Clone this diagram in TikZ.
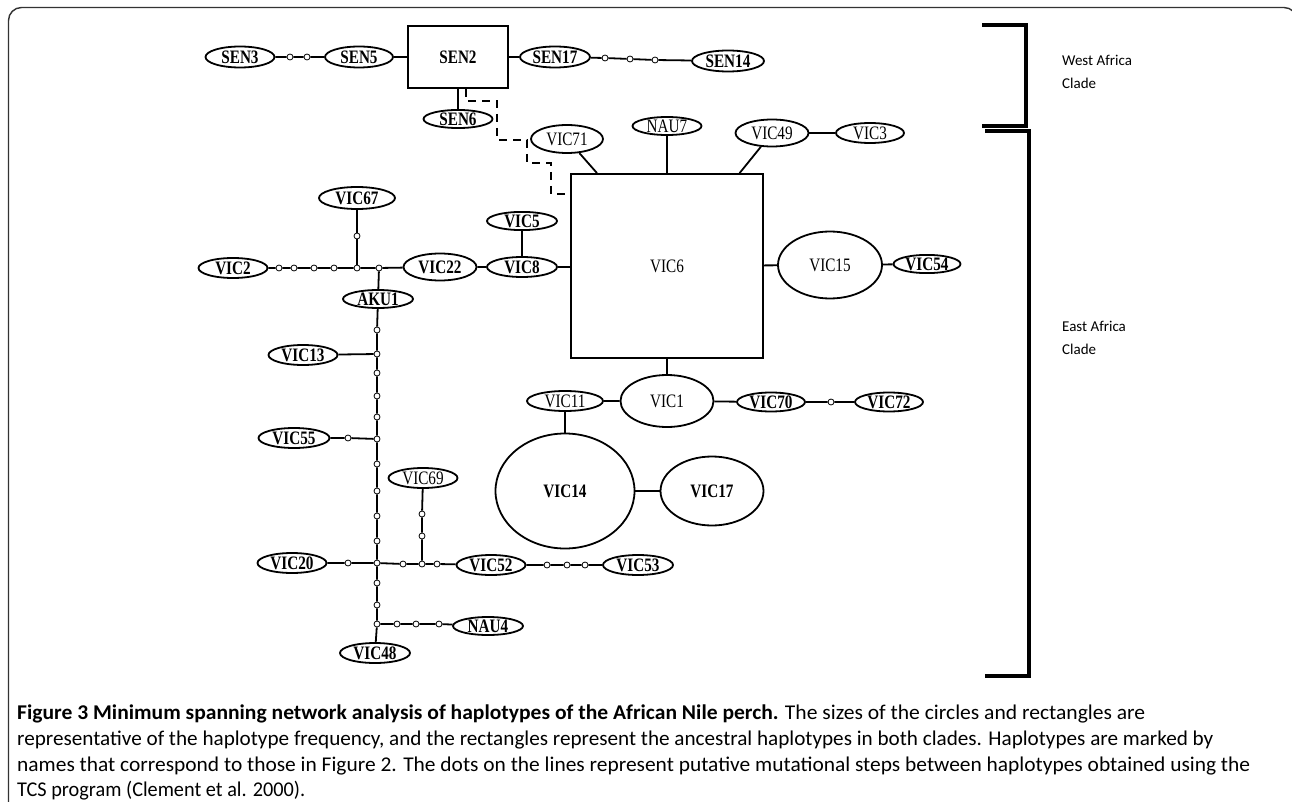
\documentclass[tikz,border=0pt]{standalone}
\usepackage{fontspec}
\usepackage{graphicx}
\usetikzlibrary{shapes.geometric}
\newfontfamily\labfont[FakeStretch=0.8]{Liberation Serif}
\newfontfamily\capfont{Carlito}
\tikzset{
  sz/.style 2 args={minimum width=#1pt, minimum height=#2pt},
  hap/.style={draw, ellipse, line width=1.8pt, inner sep=0pt, fill=white,
    font={\labfont\fontsize{19}{19}\selectfont\bfseries}},
  hapr/.style={hap, font={\labfont\fontsize{19}{19}\selectfont}},
  anc/.style={draw, rectangle, line width=1.8pt, inner sep=0pt, fill=white,
    font={\labfont\fontsize{19}{19}\selectfont}},
  mut/.style={circle, draw, fill=white, inner sep=0pt, minimum size=6pt, line width=0.8pt},
  edge/.style={line width=1.8pt},
  bracket/.style={line width=4.5pt},
  side/.style={anchor=west, inner sep=0pt, align=left,
    font={\capfont\fontsize{15}{23.5}\selectfont}},
  capline/.style={anchor=base west, inner sep=0pt}
}
\begin{document}
\begin{tikzpicture}[x=1pt, y=-1pt]
\useasboundingbox (0,0) rectangle (1292,802);
\clip (0,0) rectangle (1292,802);
\fill[white] (0,0) rectangle (1292,802);
% frame
\draw[line width=1.4pt, black!80, rounded corners=13pt] (8.5,812) -- (8.5,7.5) -- (1297,7.5) -- (1297,812);

% ---------- West African clade ----------
\node[hap, sz={69}{21}] (sen3) at (240,57) {SEN3};
\node[mut] (s1) at (290,57) {};
\node[mut] (s2) at (307,57) {};
\node[hap, sz={68}{21}] (sen5) at (359,57) {SEN5};
\node[anc, sz={100}{62}, font={\labfont\fontsize{19}{19}\selectfont\bfseries}] (sen2) at (458,57) {SEN2};
\node[hap, sz={70}{21}] (sen17) at (555,57) {SEN17};
\node[mut] (s3) at (605,58) {};
\node[mut] (s4) at (630,59) {};
\node[mut] (s5) at (655,60) {};
\node[hap, sz={72}{21}] (sen14) at (728,61) {SEN14};
\node[hap, sz={69}{18}] (sen6) at (458,119) {SEN6};

\draw[edge] (sen3) -- (s1) -- (s2) -- (sen5) -- (sen2) -- (sen17) -- (s3) -- (s4) -- (s5) -- (sen14);
\draw[edge] (sen2) -- (sen6);

% ---------- East African clade ----------
\node[anc, sz={192}{184}] (vic6) at (667,266) {VIC6};
\node[hapr, sz={72}{28}] (vic71) at (567,139) {VIC71};
\node[hapr, sz={69}{18}] (nau7) at (667,126) {NAU7};
\node[hapr, sz={73}{27}] (vic49) at (772,133) {VIC49};
\node[hapr, sz={68}{20}] (vic3) at (870,133) {VIC3};
\node[hapr, sz={104}{67}] (vic15) at (830,265) {VIC15};
\node[hap, sz={67}{18}] (vic54) at (927,264) {VIC54};
\node[hapr, sz={93}{52}] (vic1) at (667,401) {VIC1};
\node[hapr, sz={76}{20}] (vic11) at (565,401) {VIC11};
\node[hap, sz={68}{19}] (vic70) at (771,402) {VIC70};
\node[mut] (m70) at (831,402) {};
\node[hap, sz={68}{19}] (vic72) at (889,402) {VIC72};
\node[hap, sz={139}{115}] (vic14) at (565,491) {VIC14};
\node[hap, sz={103}{69}] (vic17) at (712,491) {VIC17};

\draw[edge, dash pattern=on 8pt off 6pt] ([xshift=8pt]sen2.south) -- ++(0,12) -- ++(31,0) -- ++(0,39)
  -- ++(30,0) -- ++(0,23) -- ++(24,0) -- ++(0,31) -- ++(20,0);
\draw[edge] (vic71) -- (vic6.127);
\draw[edge] (nau7) -- (vic6.north);
\draw[edge] (vic49) -- (vic6.52);
\draw[edge] (vic49) -- (vic3);
\draw[edge] (vic6) -- (vic15);
\draw[edge] (vic15) -- (vic54);
\draw[edge] (vic6) -- (vic1);
\draw[edge] (vic11) -- (vic1) -- (vic70) -- (m70) -- (vic72);
\draw[edge] (vic11) -- (vic14) -- (vic17);

% left network
\node[hap, sz={76}{22}] (vic67) at (357,198) {VIC67};
\node[mut] (a0) at (357,236) {};
\node[hap, sz={69}{20}] (vic2) at (233,268) {VIC2};
\node[mut] (a1) at (279,268) {};
\node[mut] (a2) at (294,268) {};
\node[mut] (a3) at (314,268) {};
\node[mut] (a4) at (334,268) {};
\node[mut] (j1) at (357,268) {};
\node[mut] (j2) at (379,268) {};
\node[hap, sz={73}{27}] (vic22) at (440,267) {VIC22};
\node[hap, sz={70}{20}] (vic8) at (522,267) {VIC8};
\node[hap, sz={70}{18}] (vic5) at (522,221) {VIC5};
\node[hap, sz={70}{18}] (aku1) at (378,299) {AKU1};

\draw[edge] (vic2) -- (a1) -- (a2) -- (a3) -- (a4) -- (j1) -- (j2) -- (vic22) -- (vic8);
\draw[edge] (vic67) -- (a0) -- (j1);
\draw[edge] (j2) -- (aku1);
\draw[edge] (vic5) -- (vic8);
\draw[edge] (vic8) -- (vic8 -| vic6.west);

% vertical chain
\node[mut] (b1) at (377,330) {};
\node[mut] (j13) at (377,354) {};
\node[hap, sz={69}{20}] (vic13) at (303,355) {VIC13};
\node[mut] (b2) at (377,373) {};
\node[mut] (b3) at (377,396) {};
\node[mut] (b4) at (377,417) {};
\node[mut] (j55) at (377,439) {};
\node[mut] (c55) at (348,438) {};
\node[hap, sz={71}{20}] (vic55) at (294,438) {VIC55};
\node[mut] (b5) at (377,464) {};
\node[mut] (b6) at (377,491) {};
\node[mut] (b7) at (377,516) {};
\node[mut] (b8) at (377,541) {};
\node[mut] (j20) at (377,563) {};
\node[mut] (c20) at (348,563) {};
\node[hap, sz={69}{20}] (vic20) at (292,563) {VIC20};
\node[mut] (e1) at (403,564) {};
\node[mut] (j69) at (422,564) {};
\node[mut] (e2) at (437,564) {};
\node[hap, sz={69}{20}] (vic52) at (491,565) {VIC52};
\node[mut] (e3) at (547,565) {};
\node[mut] (e4) at (567,565) {};
\node[mut] (e5) at (585,565) {};
\node[hap, sz={70}{20}] (vic53) at (638,565) {VIC53};
\node[hapr, sz={69}{20}] (vic69) at (423,478) {VIC69};
\node[mut] (f1) at (422,514) {};
\node[mut] (f2) at (422,536) {};
\node[mut] (b9) at (377,583) {};
\node[mut] (b10) at (377,605) {};
\node[mut] (jn) at (377,624) {};
\node[mut] (g1) at (397,624) {};
\node[mut] (g2) at (416,624) {};
\node[mut] (g3) at (439,624) {};
\node[hap, sz={70}{18}] (nau4) at (488,626) {NAU4};
\node[hap, sz={70}{20}] (vic48) at (375,653) {VIC48};

\draw[edge] (aku1) -- (b1) -- (j13) -- (b2) -- (b3) -- (b4) -- (j55) -- (b5) -- (b6) -- (b7) -- (b8)
  -- (j20) -- (b9) -- (b10) -- (jn) -- (vic48);
\draw[edge] (vic13) -- (j13);
\draw[edge] (vic55) -- (c55) -- (j55);
\draw[edge] (vic20) -- (c20) -- (j20) -- (e1) -- (j69) -- (e2) -- (vic52) -- (e3) -- (e4) -- (e5) -- (vic53);
\draw[edge] (vic69) -- (f1) -- (f2) -- (j69);
\draw[edge] (jn) -- (g1) -- (g2) -- (g3) -- (nau4);

% ---------- clade brackets ----------
\coordinate (wa1) at (982,25);
\coordinate (wa2) at (1026,25);
\coordinate (wa3) at (1026,126);
\coordinate (wa4) at (982,126);
\coordinate (ea1) at (985,131);
\coordinate (ea2) at (1029,131);
\coordinate (ea3) at (1029,676);
\coordinate (ea4) at (985,676);
\draw[bracket] (wa1) -- (wa2) -- (wa3) -- (wa4);
\draw[bracket] (ea1) -- (ea2) -- (ea3) -- (ea4);
\node[side] (west) at (1062,72) {West Africa\\Clade};
\node[side] (east) at (1062,338) {East Africa\\Clade};

% ---------- caption ----------
\node[capline] (cap1) at (17,719) {\resizebox{1128pt}{\height}{\capfont\fontsize{21}{22}\selectfont\textbf{Figure 3 Minimum spanning network analysis of haplotypes of the African Nile perch.} The sizes of the circles and rectangles are}};
\node[capline] (cap2) at (17,745) {\resizebox{1196pt}{\height}{\capfont\fontsize{21}{22}\selectfont representative of the haplotype frequency, and the rectangles represent the ancestral haplotypes in both clades. Haplotypes are marked by}};
\node[capline] (cap3) at (17,771) {\resizebox{1233pt}{\height}{\capfont\fontsize{21}{22}\selectfont names that correspond to those in Figure 2. The dots on the lines represent putative mutational steps between haplotypes obtained using the}};
\node[capline] (cap4) at (17,796) {\resizebox{288pt}{\height}{\capfont\fontsize{21}{22}\selectfont TCS program (Clement et al. 2000).}};
\end{tikzpicture}
\end{document}
